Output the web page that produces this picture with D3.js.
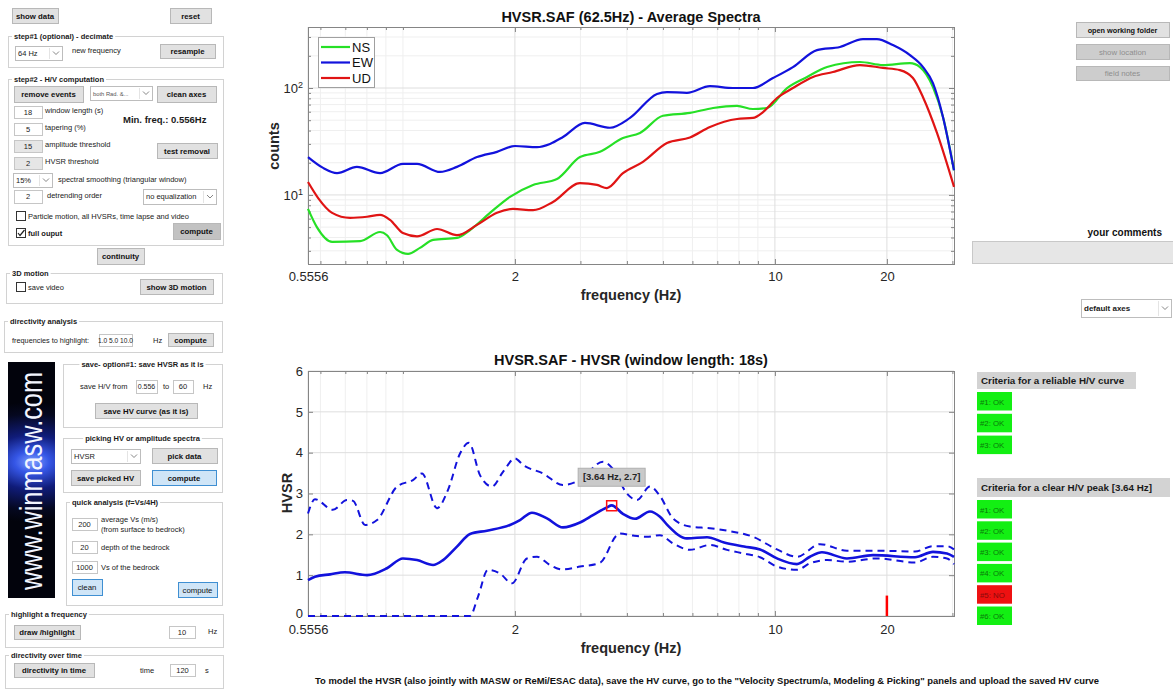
<!DOCTYPE html>
<html><head><meta charset="utf-8">
<script src="https://cdn.jsdelivr.net/npm/d3@7/dist/d3.min.js"></script>
<style>
html,body{margin:0;padding:0;background:#fff;overflow:hidden}
svg{display:block}
</style></head><body>
<svg id="c" width="1173" height="689"></svg>
<script>
// ================= DATA =================
const nsFreq   = [0.5556,0.587,0.645,0.767,0.868,0.906,0.964,1.032,1.111,1.205,1.397,1.515,1.714,1.940,2.237,2.595,2.992,3.386,3.904,4.337,5.001,5.91,6.82,7.91,8.73,9.52,10.78,12.20,13.81,16.93,19.52,23.07,24.55,26.60,28.30,30.30];
const nsCounts = [7.4,5.0,3.64,3.7,4.5,4.2,3.06,2.81,3.2,3.8,3.96,4.7,6.8,9.6,12.4,14.1,22.6,25.3,34,38,55,58.5,65,68,63.6,65,100,127,157,175,164,171,157,102,53.6,17];
const ewFreq   = [0.5556,0.610,0.665,0.752,0.868,1.000,1.091,1.258,1.397,1.582,1.790,2.001,2.293,2.485,2.693,3.086,3.602,4.077,4.819,5.126,5.80,6.69,7.71,8.73,9.88,11.18,12.97,14.96,17.25,18.80,20.76,23.07,25.01,26.60,28.30,30.30];
const ewCounts = [22.6,17.9,16.0,18.3,16.0,19.5,19.5,16.4,18.3,22.6,25.3,28.7,28,30,34.8,47.1,42.5,52.5,88,91.7,90,104,100,100,124,157,226,242,287,287,252,203,157,111,53.6,17];
const udFreq   = [0.5556,0.591,0.645,0.721,0.801,0.868,0.923,1.000,1.091,1.235,1.397,1.582,1.790,1.976,2.237,2.531,2.992,3.324,3.536,3.904,4.418,5.126,5.91,6.69,7.91,8.73,9.29,10.13,11.18,12.66,14.32,16.93,19.52,21.68,23.50,25.01,27.27,30.30];
const udCounts = [13.2,9.4,6.8,6.1,6.25,6.5,5.85,4.4,4.1,4.8,4.2,5.25,6.8,7.4,7.2,8.6,12.9,12.4,11.6,16,20.4,30.6,34.5,43.2,51.3,52.5,59.6,80.6,100,127,141,164,154,147,124,82,38,11.9];

const hvFreq   = [0.5556,0.580,0.637,0.698,0.801,0.906,1.000,1.091,1.205,1.282,1.397,1.515,1.682,1.940,2.064,2.223,2.439,2.693,2.992,3.242,3.536,3.64,3.904,4.205,4.615,4.909,5.15,5.80,6.57,7.30,8.26,9.12,10.13,11.46,12.42,13.38,15.62,18.35,23.80,26.60,29.01,30.30];
const hvMean   = [0.88,0.96,1.02,1.07,1.00,1.17,1.41,1.37,1.25,1.37,1.70,2.01,2.09,2.23,2.35,2.53,2.39,2.17,2.29,2.47,2.66,2.71,2.50,2.38,2.56,2.43,2.22,1.90,1.93,1.80,1.70,1.63,1.41,1.27,1.45,1.56,1.41,1.49,1.44,1.57,1.53,1.45];
const hvUpFreq = [0.5556,0.580,0.648,0.707,0.734,0.791,0.852,0.964,1.064,1.125,1.235,1.322,1.424,1.505,1.611,1.735,1.858,2.001,2.102,2.380,2.693,2.992,3.450,3.670,4.001,4.257,4.615,4.909,5.320,5.91,6.69,7.43,8.73,10.13,11.46,13.22,15.62,18.80,23.80,26.60,29.01,30.30];
const hvUpper  = [2.51,2.86,2.60,2.84,2.82,2.23,2.35,3.17,3.33,3.49,2.64,3.09,3.98,4.24,3.45,3.17,3.53,3.86,3.70,3.49,3.21,3.33,3.78,3.60,3.00,2.84,3.17,2.94,2.39,2.19,2.15,2.09,1.94,1.63,1.45,1.76,1.60,1.60,1.58,1.71,1.71,1.63];
const hvLoFreq = [0.5556,1.515,1.591,1.693,1.824,1.964,2.155,2.293,2.485,2.676,2.992,3.386,3.761,3.832,4.153,4.529,4.909,5.320,5.91,6.69,7.43,8.26,9.12,10.13,11.46,12.42,13.81,15.62,18.80,23.80,26.60,29.01,30.30];
const hvLower  = [0,0,0.47,1.13,1.04,0.80,1.41,1.45,1.25,1.14,1.21,1.30,1.98,2.02,1.97,1.94,1.98,1.78,1.62,1.74,1.62,1.53,1.44,1.21,1.13,1.29,1.37,1.33,1.41,1.31,1.45,1.41,1.27];

const peakFreq = 3.64, peakHV = 2.7;
const markFreq = 20, markHV = 0.5;

const freqTicks      = [0.5556,2,10,20];
const freqTickLabels = ["0.5556","2","10","20"];
const freqMinor      = [0.6,0.7,0.8,0.9,1,3,4,5,6,7,8,9,30];
const countTicks     = [10,100];
const countTickExp   = ["1","2"];
const countMinor     = [3,4,5,6,7,8,9,20,30,40,50,60,70,80,90,200,300];
const hvTicks        = [0,1,2,3,4,5,6];
const legendNames    = ["NS","EW","UD"];
const reliableCriteria = ["#1: OK","#2: OK","#3: OK"];
const peakCriteria     = ["#1: OK","#2: OK","#3: OK","#4: OK","#5: NO","#6: OK"];

// ================= SETUP =================
const FONT = '"Liberation Sans", Arial, Helvetica, sans-serif';
const svg = d3.select("#c").attr("font-family", FONT);
const colNS = "#26e026", colEW = "#1212dc", colUD = "#e01414";
const gridMajor = "#dedede", gridMinor = "#efefef", boxCol = "#858585", tickTxt = "#262626";

const x    = d3.scaleLog().domain([0.5556, 30.3]).range([308, 954]);
const yTop = d3.scaleLog().domain([2.26, 372]).range([264, 27]);
const yHv  = d3.scaleLinear().domain([0, 6]).range([616, 371]);

function frame(yScale, yMajor, yMinor, fmtY, supers, xPad) {
  const [x0, x1] = x.range(), [yb, yt] = yScale.range();
  const g = svg.append("g");
  g.append("rect").attr("x", x0).attr("y", yt).attr("width", x1 - x0).attr("height", yb - yt).attr("fill", "#fff");
  freqMinor.forEach(v => g.append("line").attr("x1", x(v)).attr("x2", x(v)).attr("y1", yt).attr("y2", yb).attr("stroke", gridMinor));
  yMinor.forEach(v => g.append("line").attr("y1", yScale(v)).attr("y2", yScale(v)).attr("x1", x0).attr("x2", x1).attr("stroke", gridMinor));
  freqTicks.forEach(v => g.append("line").attr("x1", x(v)).attr("x2", x(v)).attr("y1", yt).attr("y2", yb).attr("stroke", gridMajor));
  yMajor.forEach(v => g.append("line").attr("y1", yScale(v)).attr("y2", yScale(v)).attr("x1", x0).attr("x2", x1).attr("stroke", gridMajor));

  const ax = svg.append("g");
  ax.append("g").attr("transform", `translate(0,${yb})`).call(d3.axisBottom(x).tickValues(freqTicks).tickFormat((d, i) => freqTickLabels[i]).tickSize(-5).tickPadding(xPad));
  ax.append("g").attr("transform", `translate(0,${yb})`).call(d3.axisBottom(x).tickValues(freqMinor).tickFormat("").tickSize(-3));
  ax.append("g").attr("transform", `translate(0,${yt})`).call(d3.axisTop(x).tickValues(freqTicks).tickFormat("").tickSize(-5));
  ax.append("g").attr("transform", `translate(0,${yt})`).call(d3.axisTop(x).tickValues(freqMinor).tickFormat("").tickSize(-3));
  const left = ax.append("g").attr("transform", `translate(${x0},0)`).call(d3.axisLeft(yScale).tickValues(yMajor).tickFormat(fmtY).tickSize(-5).tickPadding(5));
  ax.append("g").attr("transform", `translate(${x0},0)`).call(d3.axisLeft(yScale).tickValues(yMinor).tickFormat("").tickSize(-3));
  ax.append("g").attr("transform", `translate(${x1},0)`).call(d3.axisRight(yScale).tickValues(yMajor).tickFormat("").tickSize(-5));
  ax.append("g").attr("transform", `translate(${x1},0)`).call(d3.axisRight(yScale).tickValues(yMinor).tickFormat("").tickSize(-3));
  ax.selectAll(".domain").remove();
  ax.selectAll(".tick line").attr("stroke", boxCol);
  ax.selectAll(".tick text").attr("fill", tickTxt).attr("font-size", 13).attr("font-family", FONT);
  if (supers) {
    left.selectAll(".tick text").each(function (d, i) {
      const t = d3.select(this).text(null);
      t.append("tspan").text("10");
      t.append("tspan").attr("dy", "-0.5em").attr("font-size", 9).text(supers[i]);
    });
  }
  ax.append("rect").attr("x", x0 + 0.5).attr("y", yt + 0.5).attr("width", x1 - x0).attr("height", yb - yt)
    .attr("fill", "none").attr("stroke", boxCol).attr("stroke-width", 1);
  return {g, left};
}

// ================= TOP CHART: average spectra =================
frame(yTop, countTicks, countMinor, "", countTickExp, 8);
const lineTop = d3.line().x(d => x(d[0])).y(d => yTop(d[1])).curve(d3.curveMonotoneX);
const series = [
  {name: "NS", f: nsFreq, v: nsCounts, c: colNS},
  {name: "EW", f: ewFreq, v: ewCounts, c: colEW},
  {name: "UD", f: udFreq, v: udCounts, c: colUD}
];
series.forEach(s => svg.append("path").attr("d", lineTop(d3.zip(s.f, s.v))).attr("fill", "none").attr("stroke", s.c).attr("stroke-width", 2.2));

svg.append("text").attr("x", 631).attr("y", 22).attr("text-anchor", "middle").attr("font-weight", "bold").attr("font-size", 14.5).attr("fill", "#111").text("HVSR.SAF (62.5Hz) - Average Spectra");
svg.append("text").attr("x", 631).attr("y", 300).attr("text-anchor", "middle").attr("font-weight", "bold").attr("font-size", 14.5).attr("fill", "#262626").text("frequency (Hz)");
svg.append("text").attr("transform", "translate(279,146) rotate(-90)").attr("text-anchor", "middle").attr("font-weight", "bold").attr("font-size", 14.5).attr("fill", "#262626").text("counts");

// legend
const lg = svg.append("g");
lg.append("rect").attr("x", 318.5).attr("y", 37.5).attr("width", 56).attr("height", 50).attr("fill", "#fff").attr("stroke", "#a0a0a0");
series.forEach((s, i) => {
  const ly = 47 + i * 15.5;
  lg.append("line").attr("x1", 321).attr("x2", 350).attr("y1", ly).attr("y2", ly).attr("stroke", s.c).attr("stroke-width", 2.2);
  lg.append("text").attr("x", 352).attr("y", ly + 4.8).attr("font-size", 13).attr("fill", "#111").text(legendNames[i]);
});

// ================= BOTTOM CHART: HVSR =================
const hvAx = frame(yHv, hvTicks, [], d => String(d), null, 9);
hvAx.left.selectAll(".tick text").filter(d => d === 0).attr("dy", "0.1em");
const lineHv = d3.line().x(d => x(d[0])).y(d => yHv(d[1])).curve(d3.curveMonotoneX);
svg.append("path").attr("d", lineHv(d3.zip(hvUpFreq, hvUpper))).attr("fill", "none").attr("stroke", colEW).attr("stroke-width", 2).attr("stroke-dasharray", "7,5");
svg.append("path").attr("d", lineHv(d3.zip(hvLoFreq, hvLower))).attr("fill", "none").attr("stroke", colEW).attr("stroke-width", 2).attr("stroke-dasharray", "7,5");
svg.append("path").attr("d", lineHv(d3.zip(hvFreq, hvMean))).attr("fill", "none").attr("stroke", colEW).attr("stroke-width", 2.6);
svg.append("line").attr("x1", x(markFreq)).attr("x2", x(markFreq)).attr("y1", yHv(0)).attr("y2", yHv(markHV)).attr("stroke", "#ff0000").attr("stroke-width", 2.5);
svg.append("rect").attr("x", x(peakFreq) - 5).attr("y", yHv(peakHV) - 5).attr("width", 10).attr("height", 10).attr("fill", "none").attr("stroke", "#ff1010").attr("stroke-width", 1.5);
// datatip
const tipX = x(peakFreq), tipY = yHv(peakHV) - 38;
svg.append("rect").attr("x", tipX - 33.5).attr("y", tipY + 0.5).attr("width", 67).attr("height", 18).attr("fill", "#c9c9c9").attr("stroke", "#b0b0b0");
svg.append("text").attr("x", tipX).attr("y", tipY + 12.5).attr("text-anchor", "middle").attr("font-size", 9.5).attr("font-weight", "bold").attr("fill", "#262626").text(`[${peakFreq} Hz, ${peakHV}]`);

svg.append("text").attr("x", 631).attr("y", 365).attr("text-anchor", "middle").attr("font-weight", "bold").attr("font-size", 14.5).attr("fill", "#111").text("HVSR.SAF - HVSR (window length: 18s)");
svg.append("text").attr("x", 631).attr("y", 653).attr("text-anchor", "middle").attr("font-weight", "bold").attr("font-size", 14.5).attr("fill", "#262626").text("frequency (Hz)");
svg.append("text").attr("transform", "translate(292,493) rotate(-90)").attr("text-anchor", "middle").attr("font-weight", "bold").attr("font-size", 14.5).attr("fill", "#262626").text("HVSR");

svg.append("text").attr("x", 707).attr("y", 684).attr("text-anchor", "middle").attr("font-weight", "bold").attr("font-size", 8.5).attr("fill", "#111")
  .attr("textLength", 784).attr("lengthAdjust", "spacingAndGlyphs")
  .text('To model the HVSR (also jointly with MASW or ReMi/ESAC data), save the HV curve, go to the "Velocity Spectrum/a, Modeling & Picking" panels and upload the saved HV curve');

// ================= GUI CONTROLS =================
const gui = svg.append("g").attr("font-family", FONT);
function txt(xp, yp, s, o = {}) {
  return gui.append("text").attr("x", xp).attr("y", yp).attr("font-size", o.size || 7.5)
    .attr("font-weight", o.bold ? "bold" : "normal").attr("fill", o.color || "#1a1a1a")
    .attr("text-anchor", o.anchor || "start").text(s);
}
function btn(xp, yp, w, h, label, o = {}) {
  const k = o.kind || "";
  const fill = k === "dark" ? "#c2c2c2" : k === "blue" ? "#cfe5f7" : k === "off" ? "#cdcdcd" : "#e1e1e1";
  const stroke = k === "blue" ? "#3f8fd2" : "#b8b8b8";
  gui.append("rect").attr("x", xp + 0.5).attr("y", yp + 0.5).attr("width", w).attr("height", h).attr("fill", fill).attr("stroke", stroke);
  txt(xp + w / 2, yp + h / 2 + 3, label, {anchor: "middle", bold: o.bold !== false, color: k === "off" ? "#8e8e8e" : "#111", size: o.size || 7.8});
}
function edit(xp, yp, w, h, s, o = {}) {
  gui.append("rect").attr("x", xp + 0.5).attr("y", yp + 0.5).attr("width", w).attr("height", h).attr("fill", o.off ? "#e6e6e6" : "#fff").attr("stroke", "#c6c6c6");
  txt(xp + w / 2, yp + h / 2 + 2.8, s, {anchor: "middle", size: o.size});
}
function drop(xp, yp, w, h, s, o = {}) {
  gui.append("rect").attr("x", xp + 0.5).attr("y", yp + 0.5).attr("width", w).attr("height", h).attr("fill", "#fff").attr("stroke", "#bdbdbd");
  gui.append("line").attr("x1", xp + w - 12.5).attr("x2", xp + w - 12.5).attr("y1", yp + 2).attr("y2", yp + h - 1).attr("stroke", "#e4e4e4");
  const cx = xp + w - 6, cy = yp + h / 2;
  gui.append("path").attr("d", `M${cx - 3},${cy - 1.5} L${cx},${cy + 1.5} L${cx + 3},${cy - 1.5}`).attr("fill", "none").attr("stroke", "#777").attr("stroke-width", 0.9);
  txt(xp + 3, yp + h / 2 + 2.8, s, {size: o.size || 7.5, bold: o.bold, color: o.color});
}
function group(xp, yp, w, h, title, o = {}) {
  gui.append("rect").attr("x", xp + 0.5).attr("y", yp + 0.5).attr("width", w).attr("height", h).attr("fill", "none").attr("stroke", "#d2d2d2");
  const tx = o.center ? xp + w / 2 : xp + 6;
  const t = txt(tx, yp + 3, title, {bold: true, anchor: o.center ? "middle" : "start"});
  const tw = t.node().getComputedTextLength();
  const bx = o.center ? tx - tw / 2 - 2 : tx - 2;
  gui.insert("rect", () => t.node()).attr("x", bx).attr("y", yp - 4).attr("width", tw + 4).attr("height", 9).attr("fill", "#fff");
}
function check(xp, yp, on) {
  gui.append("rect").attr("x", xp + 0.5).attr("y", yp + 0.5).attr("width", 9).attr("height", 9).attr("fill", "#fff").attr("stroke", "#333");
  if (on) gui.append("path").attr("d", `M${xp + 2},${yp + 5} L${xp + 4},${yp + 7.5} L${xp + 8.5},${yp + 2}`).attr("fill", "none").attr("stroke", "#222").attr("stroke-width", 1.2);
}

// top
btn(12, 8, 46, 15, "show data");
btn(170, 8, 41, 15, "reset");
group(8, 36, 215, 31, "step#1 (optional) - decimate");
drop(15, 46, 47, 14, "64 Hz");
txt(72, 53, "new frequency");
btn(160, 44, 55, 14, "resample");

group(8, 79, 215, 166, "step#2 - H/V computation");
btn(14, 86, 69, 16, "remove events");
drop(90, 86, 62, 14, "both Rad. &...", {size: 5.8, color: "#555"});
btn(157, 86, 59, 16, "clean axes");
edit(14, 106, 28, 12, "18");  txt(45, 113, "window length (s)");
txt(123, 123, "Min. freq.: 0.556Hz", {bold: true, size: 9.5});
edit(14, 123, 28, 12, "5");   txt(45, 130, "tapering (%)");
edit(14, 140, 28, 12, "15", {off: true}); txt(45, 147, "amplitude threshold");
edit(14, 157, 28, 12, "2", {off: true});  txt(45, 164, "HVSR threshold");
btn(157, 143, 60, 15, "test removal");
drop(13, 173, 39, 14, "15%");
txt(58, 182, "spectral smoothing (triangular window)");
edit(14, 190, 28, 13, "2");  txt(47, 198, "detrending order");
drop(143, 189, 73, 15, "no equalization");
check(16, 211, false); txt(28, 219, "Particle motion, all HVSRs, time lapse and video");
check(16, 228, true);  txt(28, 236, "full ouput", {bold: true});
btn(173, 223, 47, 16, "compute", {kind: "dark"});

btn(97, 248, 47, 16, "continuity");

group(6, 273, 216, 30, "3D motion");
check(16, 282, false); txt(28, 290, "save video");
btn(140, 279, 73, 15, "show 3D motion");

group(4, 321, 218, 31, "directivity analysis");
txt(12, 343, "frequencies to highlight:", {size: 7.3});
edit(99, 334, 33, 12, "1.0 5.0 10.0", {size: 6.6});
txt(153, 343, "Hz");
btn(168, 333, 45, 13, "compute");

// logo
const defs = svg.append("defs");
const rg = defs.append("radialGradient").attr("id", "glow").attr("gradientUnits", "userSpaceOnUse")
  .attr("cx", 32).attr("cy", 462).attr("r", 60).attr("gradientTransform", "translate(32,462) scale(1.6,1) translate(-32,-462)");
[["0", "#7fa0ff"], ["0.18", "#3556e6"], ["0.45", "#101c7a"], ["0.8", "#050820"], ["1", "#02030c"]].forEach(s => rg.append("stop").attr("offset", s[0]).attr("stop-color", s[1]));
gui.append("rect").attr("x", 8).attr("y", 362).attr("width", 47).attr("height", 236).attr("fill", "url(#glow)");
gui.append("text").attr("transform", "translate(42,590) rotate(-90) scale(1,1.3)").attr("font-size", 24)
  .attr("textLength", 218).attr("lengthAdjust", "spacingAndGlyphs").attr("fill", "#f2f5ff").text("www.winmasw.com");

group(63, 364, 159, 63, "save- option#1: save HVSR as it is", {center: true});
txt(80, 389, "save H/V from");
edit(136, 380, 21, 13, "0.556", {size: 7});
txt(163, 389, "to");
edit(173, 380, 20, 13, "60");
txt(203, 389, "Hz");
btn(95, 403, 102, 15, "save HV curve (as it is)");

group(63, 438, 159, 54, "picking HV or amplitude spectra", {center: true});
drop(71, 449, 69, 14, "HVSR");
btn(152, 448, 65, 15, "pick data");
btn(71, 470, 69, 15, "save picked HV");
btn(152, 470, 64, 15, "compute", {kind: "blue"});

group(66, 502, 156, 103, "quick analysis (f=Vs/4H)");
edit(72, 518, 25, 12, "200");  txt(101, 522, "average Vs (m/s)"); txt(101, 532, "(from surface to bedrock)");
edit(72, 541, 25, 12, "20");   txt(101, 550, "depth of the bedrock");
edit(72, 561, 25, 12, "1000"); txt(101, 570, "Vs of the bedrock");
btn(72, 579, 30, 16, "clean", {kind: "blue", bold: false});
btn(178, 582, 39, 15, "compute", {kind: "blue", bold: false});

group(5, 614, 218, 33, "highlight a frequency");
btn(14, 625, 66, 14, "draw /highlight");
edit(169, 626, 26, 12, "10"); txt(208, 634, "Hz");

group(5, 655, 218, 33, "directivity over time");
btn(14, 663, 80, 14, "directivity in time");
txt(140, 673, "time"); edit(170, 664, 25, 12, "120"); txt(205, 673, "s");

// right side
btn(1076, 22, 93, 15, "open working folder", {size: 7.3});
btn(1076, 44, 93, 15, "show location", {kind: "off", bold: false});
btn(1076, 66, 93, 14, "field notes", {kind: "off", bold: false});
txt(1162, 236, "your comments", {bold: true, size: 10, anchor: "end", color: "#111"});
gui.append("rect").attr("x", 972.5).attr("y", 241.5).attr("width", 201).attr("height", 22).attr("fill", "#e6e6e6").attr("stroke", "#c8c8c8");
drop(1081, 299, 90, 18, "default axes", {bold: true, size: 8});

function header(xp, yp, w, h, s) {
  gui.append("rect").attr("x", xp).attr("y", yp).attr("width", w).attr("height", h).attr("fill", "#d3d3d3");
  txt(xp + 4, yp + h / 2 + 3.5, s, {bold: true, size: 9.8, color: "#1a1a1a"});
}
function crit(xp, yp, s) {
  const ok = s.indexOf("OK") >= 0;
  gui.append("rect").attr("x", xp).attr("y", yp).attr("width", 35).attr("height", 18.5).attr("fill", ok ? "#13ef13" : "#ee1111");
  txt(xp + 3, yp + 12.5, s, {size: 7.8, color: ok ? "#0a7a0a" : "#8a0a0a"});
}
header(977, 372, 159, 17, "Criteria for a reliable H/V curve");
reliableCriteria.forEach((s, i) => crit(977, 392 + i * 21.8, s));
header(977, 478, 193, 19, "Criteria for a clear H/V peak [3.64 Hz]");
peakCriteria.forEach((s, i) => crit(977, 500 + i * 21.3, s));
</script>
</body></html>
